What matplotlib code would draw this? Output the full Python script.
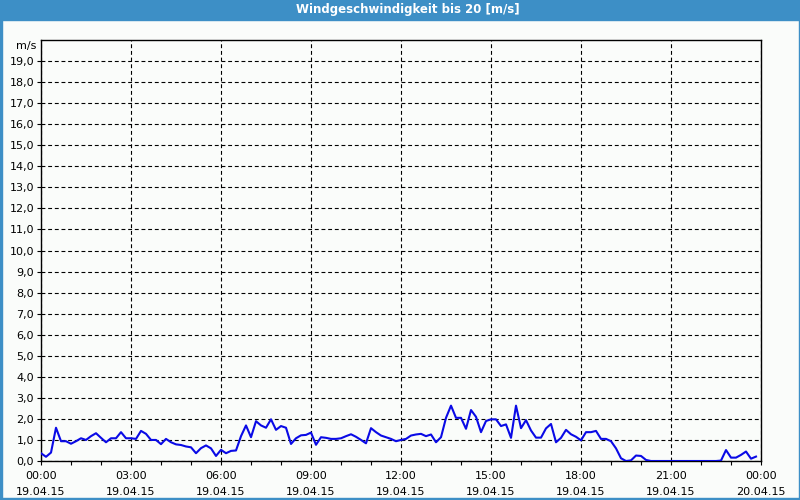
import matplotlib
matplotlib.use("Agg")
import matplotlib.pyplot as plt
import matplotlib.dates as mdates
from matplotlib.patches import Rectangle
import pandas as pd

title = "Windgeschwindigkeit bis 20 [m/s]"
unit_label = "m/s"
start = "2015-04-19 00:00"
end = "2015-04-20 00:00"

# 10-minute wind speed values (m/s), 19.04.15 00:00 .. 23:50
speed = [
    0.37, 0.20, 0.40, 1.58, 0.94, 0.94, 0.82, 0.94, 1.08, 1.00, 1.18, 1.32,
    1.10, 0.89, 1.08, 1.08, 1.37, 1.08, 1.08, 1.05, 1.43, 1.29, 1.00, 1.00,
    0.80, 1.05, 0.89, 0.79, 0.76, 0.69, 0.65, 0.37, 0.61, 0.74, 0.60, 0.24,
    0.53, 0.37, 0.48, 0.50, 1.18, 1.69, 1.13, 1.89, 1.69, 1.58, 1.98, 1.48,
    1.66, 1.58, 0.81, 1.08, 1.22, 1.24, 1.35, 0.77, 1.13, 1.10, 1.05, 1.05,
    1.08, 1.18, 1.27, 1.15, 1.00, 0.84, 1.56, 1.37, 1.21, 1.13, 1.05, 0.94,
    1.00, 1.05, 1.21, 1.26, 1.29, 1.18, 1.26, 0.89, 1.13, 2.05, 2.63, 2.05,
    2.05, 1.53, 2.42, 2.10, 1.37, 1.90, 1.98, 1.98, 1.66, 1.74, 1.10, 2.63,
    1.56, 1.94, 1.45, 1.11, 1.11, 1.55, 1.76, 0.89, 1.10, 1.48, 1.27, 1.15,
    0.98, 1.37, 1.37, 1.43, 1.05, 1.05, 0.94, 0.60, 0.13, 0.00, 0.03, 0.26,
    0.24, 0.05, 0.00, 0.00, 0.00, 0.00, 0.00, 0.00, 0.00, 0.00, 0.00, 0.00,
    0.00, 0.00, 0.00, 0.00, 0.02, 0.52, 0.16, 0.16, 0.29, 0.45, 0.11, 0.21,
]
times = pd.date_range(start, periods=len(speed), freq="10min")

bg = "#fafcfa"
bar_blue = "#3d8fc6"

fig = plt.figure(figsize=(8, 5), dpi=100, facecolor=bg)
plt.rcParams["font.family"] = ["DejaVu Sans"]

# title bar and frame
fig.patches.append(Rectangle((0, 480 / 500), 1, 20 / 500, transform=fig.transFigure,
                             color=bar_blue, zorder=0))
fig.patches.append(Rectangle((0, 0), 1.5 / 800, 1, transform=fig.transFigure,
                             color=bar_blue, zorder=0))
fig.patches.append(Rectangle((798.5 / 800, 0), 1.5 / 800, 1, transform=fig.transFigure,
                             color=bar_blue, zorder=0))
fig.patches.append(Rectangle((0, 0), 1, 2 / 500, transform=fig.transFigure,
                             color=bar_blue, zorder=0))
fig.text(0.51, 490 / 500, title, color="white", fontsize=8.5, fontweight="bold",
         ha="center", va="center")

ax = fig.add_axes([41 / 800, 39 / 500, 720 / 800, 421 / 500], facecolor=bg)
ax.plot(times, speed, color="#0a0ae6", lw=1.5, solid_joinstyle="round", zorder=3)

ax.set_ylim(0, 20)
ax.set_xlim(pd.Timestamp(start), pd.Timestamp(end))

ax.set_yticks(range(0, 20))
ax.set_yticklabels([f"{v},0" for v in range(0, 20)])
ax.xaxis.set_major_locator(mdates.HourLocator(byhour=range(0, 24, 3)))
ax.xaxis.set_minor_locator(mdates.HourLocator())
ax.xaxis.set_major_formatter(mdates.DateFormatter("%H:%M\n%d.%m.%y"))

ax.grid(True, which="major", color="black", linestyle=(0, (3.5, 2.5)), linewidth=0.8)
ax.tick_params(axis="both", which="major", length=3, width=0.8, labelsize=8, colors="black", pad=2)
ax.tick_params(axis="x", which="major", pad=4)
ax.tick_params(axis="x", which="minor", length=3, width=0.8)
for lbl in ax.get_xticklabels():
    lbl.set_linespacing(1.8)
for s in ax.spines.values():
    s.set_linewidth(1.0)
    s.set_color("black")

ax.text(-0.006, 19.7, unit_label, transform=ax.get_yaxis_transform(), ha="right",
        va="center", fontsize=8)

fig.savefig("out.png", dpi=100, facecolor=bg)
